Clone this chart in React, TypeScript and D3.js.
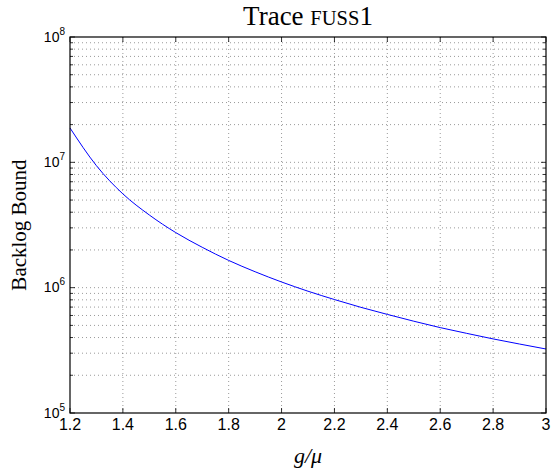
import React from "react";
import * as d3 from "d3";

const xValues = [1.2, 1.3, 1.4, 1.5, 1.6, 1.7, 1.8, 1.9, 2.0, 2.1, 2.2, 2.3, 2.4, 2.5, 2.6, 2.7, 2.8, 2.9, 3.0];
const backlog = [1.88e7, 9.4e6, 5.6e6, 3.8e6, 2.75e6, 2.1e6, 1.65e6, 1.34e6, 1.11e6, 9.37e5, 8.04e5, 6.97e5, 6.12e5, 5.4e5, 4.8e5, 4.32e5, 3.9e5, 3.55e5, 3.24e5];
const xTicks = [1.2, 1.4, 1.6, 1.8, 2, 2.2, 2.4, 2.6, 2.8, 3];
const yDecades = [5, 6, 7, 8];

const W = 552, H = 476;
const L = 70, R = 546, T = 37, B = 413;

export default function App() {
  const x = d3.scaleLinear().domain([1.2, 3]).range([L, R]);
  const y = d3.scaleLog().domain([1e5, 1e8]).range([B, T]);
  const line = d3
    .line<number>()
    .x((_, i) => x(xValues[i]))
    .y((d) => y(d))
    .curve(d3.curveMonotoneX);

  const minor: number[] = [];
  for (let e = 5; e < 8; e++) for (let m = 2; m <= 9; m++) minor.push(m * Math.pow(10, e));

  const tickFont = "'Liberation Sans', Arial, sans-serif";
  const serif = "'Liberation Serif', 'DejaVu Serif', serif";

  return (
    <svg width={W} height={H} style={{ position: "absolute", left: 0, top: 0, background: "#fff" }}>
      <rect x={0} y={0} width={W} height={H} fill="#fff" />
      {/* grid */}
      <g stroke="#555" strokeWidth={0.6} strokeDasharray="1,3">
        {xTicks.slice(1, -1).map((t) => (
          <line key={"gx" + t} x1={x(t)} x2={x(t)} y1={T} y2={B} />
        ))}
        {minor.map((v) => (
          <line key={"gm" + v} x1={L} x2={R} y1={y(v)} y2={y(v)} />
        ))}
        {yDecades.slice(1, -1).map((e) => (
          <line key={"gy" + e} x1={L} x2={R} y1={y(Math.pow(10, e))} y2={y(Math.pow(10, e))} />
        ))}
      </g>
      {/* ticks */}
      <g stroke="#000" strokeWidth={0.8}>
        {xTicks.map((t) => (
          <g key={"tx" + t}>
            <line x1={x(t)} x2={x(t)} y1={B} y2={B - 5} />
            <line x1={x(t)} x2={x(t)} y1={T} y2={T + 5} />
          </g>
        ))}
        {minor.map((v) => (
          <g key={"tm" + v}>
            <line x1={L} x2={L + 3} y1={y(v)} y2={y(v)} />
            <line x1={R} x2={R - 3} y1={y(v)} y2={y(v)} />
          </g>
        ))}
        {yDecades.map((e) => (
          <g key={"ty" + e}>
            <line x1={L} x2={L + 5} y1={y(Math.pow(10, e))} y2={y(Math.pow(10, e))} />
            <line x1={R} x2={R - 5} y1={y(Math.pow(10, e))} y2={y(Math.pow(10, e))} />
          </g>
        ))}
      </g>
      {/* curve */}
      <path d={line(backlog) || ""} fill="none" stroke="#0000ff" strokeWidth={1} />
      {/* frame */}
      <rect x={L} y={T} width={R - L} height={B - T} fill="none" stroke="#000" strokeWidth={1.2} />
      {/* x tick labels */}
      {xTicks.map((t) => (
        <text key={"lx" + t} x={x(t)} y={B + 17} textAnchor="middle" fontFamily={tickFont} fontSize={16}>
          {String(t)}
        </text>
      ))}
      {/* y tick labels */}
      {yDecades.map((e) => (
        <text key={"ly" + e} x={L - 5} y={y(Math.pow(10, e)) + 4.5} textAnchor="end" fontFamily={tickFont} fontSize={14}>
          10
          <tspan fontSize={10} dy={-7}>{e}</tspan>
        </text>
      ))}
      {/* title */}
      <text x={(L + R) / 2} y={25} textAnchor="middle" fontFamily={serif} fontSize={27}>
        Trace <tspan fontSize={20.5}>FUSS</tspan>1
      </text>
      {/* x label */}
      <text x={(L + R) / 2} y={463} textAnchor="middle" fontFamily={serif} fontSize={22} fontStyle="italic">
        g/μ
      </text>
      {/* y label */}
      <text
        transform={`translate(26,${(T + B) / 2}) rotate(-90)`}
        textAnchor="middle"
        fontFamily={serif}
        fontSize={21}
      >
        Backlog Bound
      </text>
    </svg>
  );
}
